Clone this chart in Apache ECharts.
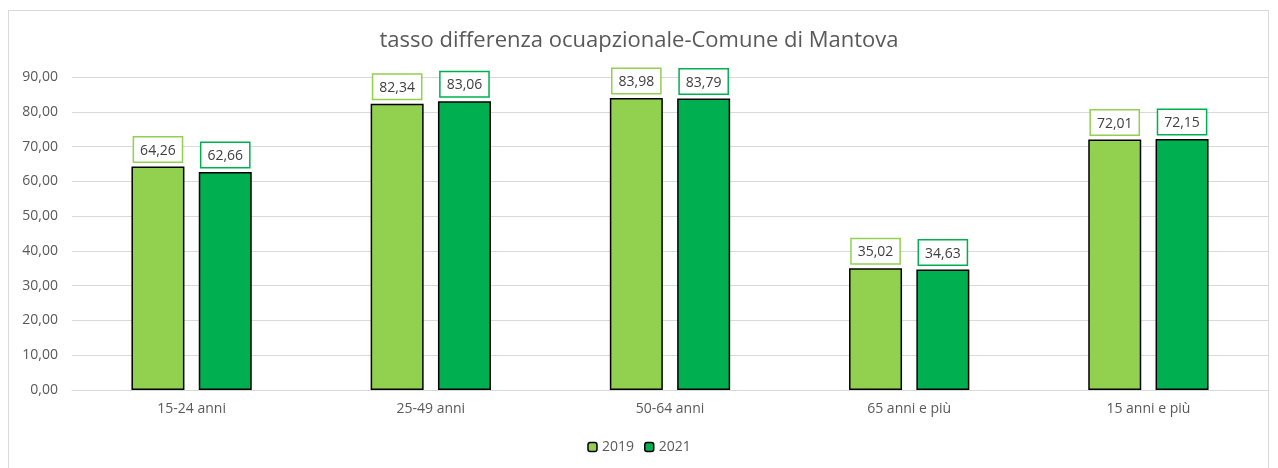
<!DOCTYPE html>
<html>
<head>
<meta charset="utf-8">
<script src="https://cdn.jsdelivr.net/npm/echarts@6/dist/echarts.min.js"></script>
<style>
  html, body { margin: 0; padding: 0; background: #fff; }
  #frame {
    position: absolute; left: 8px; top: 10px; width: 1261px; height: 480px;
    border: 1px solid #d9d9d9; box-sizing: border-box;
  }
  #main { position: absolute; left: 0; top: 0; width: 1278px; height: 468px; }
</style>
</head>
<body>
<div id="frame"></div>
<div id="main"></div>
<script>
const categories = ["15-24 anni", "25-49 anni", "50-64 anni", "65 anni e più", "15 anni e più"];
const values2019 = [64.26, 82.34, 83.98, 35.02, 72.01];
const values2021 = [62.66, 83.06, 83.79, 34.63, 72.15];

const fmt = v => v.toFixed(2).replace(".", ",");

const labelStyle = (color) => ({
  show: true,
  position: "top",
  distance: 5,
  formatter: p => fmt(p.value),
  color: "#404040",
  fontSize: 14,
  fontFamily: "Open Sans",
  backgroundColor: "#fff",
  borderColor: color,
  borderWidth: 1.5,
  padding: [6, 6, 4, 6]
});

const chart = echarts.init(document.getElementById("main"));
chart.setOption({
  animation: false,
  title: {
    text: "tasso differenza ocuapzionale-Comune di Mantova",
    left: "center",
    top: 25,
    textStyle: { color: "#595959", fontSize: 22, fontWeight: "normal", fontFamily: "Open Sans" }
  },
  legend: {
    bottom: 9,
    left: "center",
    itemWidth: 9,
    itemHeight: 9,
    itemGap: 10,
    textStyle: { color: "#595959", fontSize: 14, fontFamily: "Open Sans" },
    data: [
      { name: "2019", itemStyle: { borderColor: "#000", borderWidth: 1.5 } },
      { name: "2021", itemStyle: { borderColor: "#000", borderWidth: 1.5 } }
    ]
  },
  grid: { left: 72, right: 10, top: 77, bottom: 78 },
  xAxis: {
    type: "category",
    data: categories,
    axisLine: { lineStyle: { color: "#d9d9d9" } },
    axisTick: { show: false },
    axisLabel: { color: "#595959", fontSize: 14, fontFamily: "Open Sans", margin: 12 }
  },
  yAxis: {
    type: "value",
    min: 0,
    max: 90,
    interval: 10,
    axisLine: { show: false },
    axisTick: { show: false },
    axisLabel: { color: "#595959", fontSize: 14, fontFamily: "Open Sans", formatter: v => fmt(v), margin: 14 },
    splitLine: { lineStyle: { color: "#d9d9d9", width: 1 } }
  },
  series: [
    {
      name: "2019",
      type: "bar",
      data: values2019,
      barWidth: 53,
      barGap: "27%",
      itemStyle: { color: "#92D050", borderColor: "#000", borderWidth: 1.5 },
      label: labelStyle("#92D050")
    },
    {
      name: "2021",
      type: "bar",
      data: values2021,
      barWidth: 53,
      itemStyle: { color: "#00B050", borderColor: "#000", borderWidth: 1.5 },
      label: labelStyle("#00B050")
    }
  ]
});
</script>
</body>
</html>
